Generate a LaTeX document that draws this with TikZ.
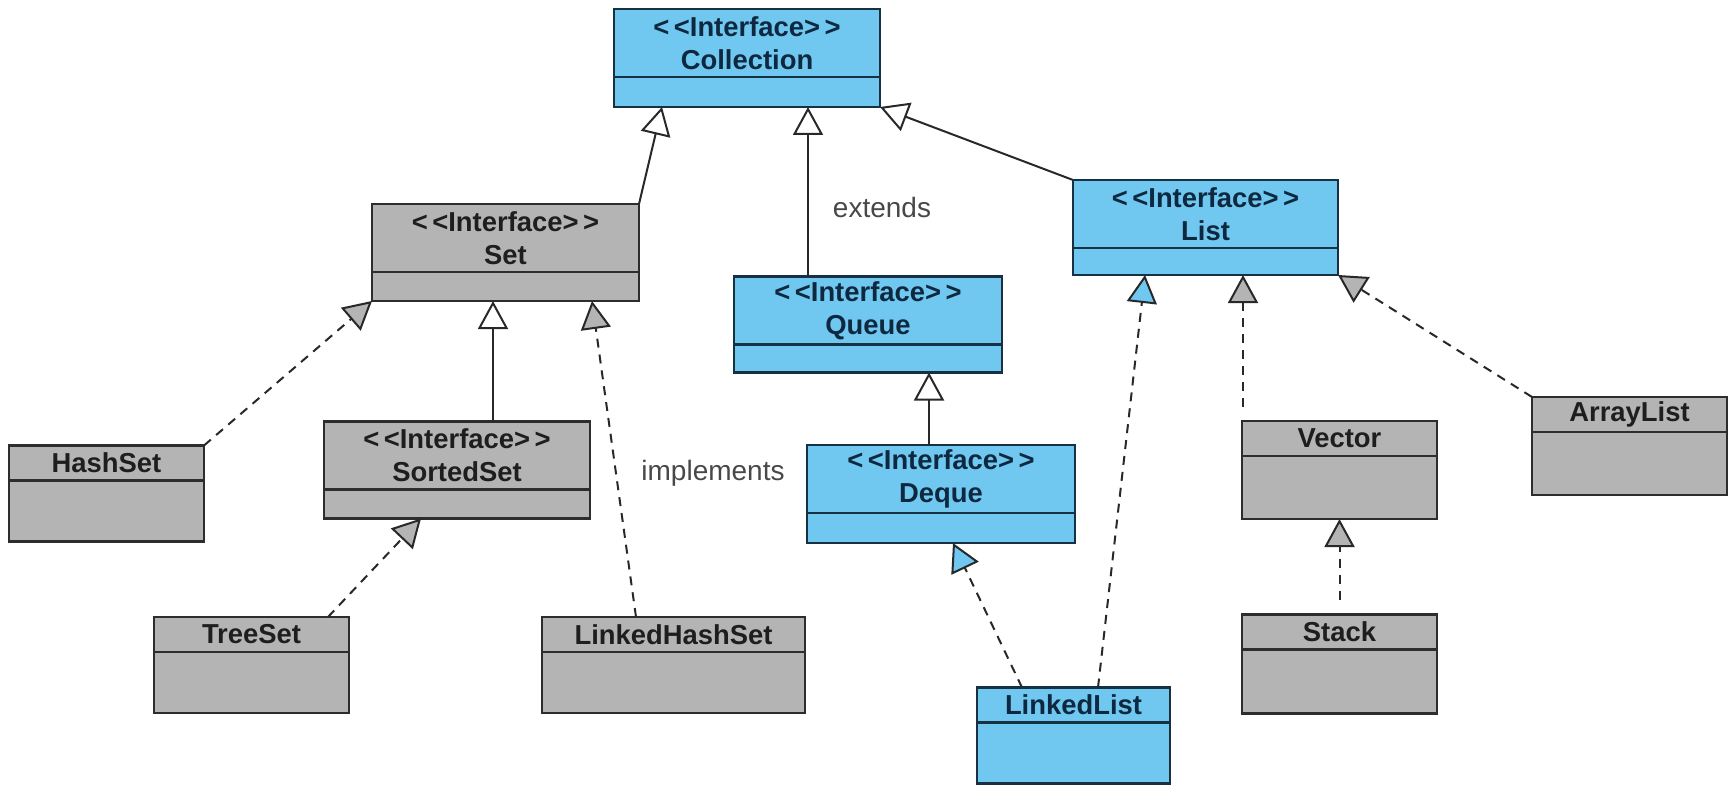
\documentclass[tikz,border=0pt]{standalone}
\usepackage{fontspec}
\setmainfont{Liberation Sans}
\usetikzlibrary{positioning, arrows.meta}

\definecolor{azulrelleno}{RGB}{112,200,240}
\definecolor{azulborde}{RGB}{22,50,66}
\definecolor{azultexto}{RGB}{14,40,64}
\definecolor{grisrelleno}{RGB}{180,180,180}
\definecolor{grisborde}{RGB}{45,45,45}
\definecolor{gristexto}{RGB}{30,30,30}
\definecolor{linea}{RGB}{40,40,40}

\tikzset{
  azul/.style={draw=azulborde, fill=azulrelleno, text=azultexto},
  gris/.style={draw=grisborde, fill=grisrelleno, text=gristexto},
  caja/.style={line width=2.4pt, outer sep=0pt, inner sep=0pt, align=center,
    font=\fontsize{27.4}{33}\selectfont\bfseries},
  interfaz/.style={caja, minimum height=68pt},
  clase/.style={caja, minimum height=35pt},
  hueco/.style={caja, minimum height=#1},
  hereda/.style={draw=linea, line width=2pt,
    -{Triangle[length=28pt, width=30pt, fill=white]}},
  implementa/.style={draw=linea, line width=2pt, dash pattern=on 9pt off 7pt,
    -{Triangle[length=28pt, width=30pt, fill=#1]}},
  implementa/.default=grisrelleno,
  etiqueta/.style={text=linea!85, font=\fontsize{28}{32}\selectfont}
}

\begin{document}
\begin{tikzpicture}[x=1pt, y=-1pt]
  \useasboundingbox (0,0) rectangle (1734,786);

  % Interfaces
  \node[interfaz, azul, minimum width=266pt] (coll) at (747,43) {<\,<Interface>\,>\\Collection};
  \node[hueco=30pt, azul, minimum width=266pt, below=0pt of coll] (coll-b) {};

  \node[interfaz, gris, minimum width=267pt] (set) at (505.5,238) {<\,<Interface>\,>\\Set};
  \node[hueco=29pt, gris, minimum width=267pt, below=0pt of set] (set-b) {};

  \node[interfaz, azul, minimum width=265pt] (list) at (1205.5,214) {<\,<Interface>\,>\\List};
  \node[hueco=27pt, azul, minimum width=265pt, below=0pt of list] (list-b) {};

  \node[interfaz, azul, minimum width=268pt] (queue) at (868,310.5) {<\,<Interface>\,>\\Queue};
  \node[hueco=28pt, azul, minimum width=268pt, below=0pt of queue] (queue-b) {};

  \node[interfaz, gris, minimum width=266pt] (sorted) at (457,455.5) {<\,<Interface>\,>\\SortedSet};
  \node[hueco=29pt, gris, minimum width=266pt, below=0pt of sorted] (sorted-b) {};

  \node[interfaz, azul, minimum width=268pt] (deque) at (941,479) {<\,<Interface>\,>\\Deque};
  \node[hueco=30pt, azul, minimum width=268pt, below=0pt of deque] (deque-b) {};

  % Clases
  \node[clase, gris, minimum width=195pt] (hashset) at (106.5,463) {HashSet};
  \node[hueco=61pt, gris, minimum width=195pt, below=0pt of hashset] (hashset-b) {};

  \node[clase, gris, minimum width=195pt] (treeset) at (251.5,634.5) {TreeSet};
  \node[hueco=61pt, gris, minimum width=195pt, below=0pt of treeset] (treeset-b) {};

  \node[clase, gris, minimum width=263pt] (lhs) at (673.5,634.5) {LinkedHashSet};
  \node[hueco=61pt, gris, minimum width=263pt, below=0pt of lhs] (lhs-b) {};

  \node[clase, azul, minimum width=193pt] (llist) at (1073.5,705) {LinkedList};
  \node[hueco=61pt, azul, minimum width=193pt, below=0pt of llist] (llist-b) {};

  \node[clase, gris, minimum width=195pt] (vector) at (1339.5,438.5) {Vector};
  \node[hueco=63pt, gris, minimum width=195pt, below=0pt of vector] (vector-b) {};

  \node[clase, gris, minimum width=195pt] (stack) at (1339.5,632) {Stack};
  \node[hueco=64pt, gris, minimum width=195pt, below=0pt of stack] (stack-b) {};

  \node[clase, gris, minimum width=195pt] (arraylist) at (1629.5,414.5) {ArrayList};
  \node[hueco=63pt, gris, minimum width=195pt, below=0pt of arraylist] (arraylist-b) {};

  % Herencia entre interfaces
  \draw[hereda] (set.north east) -- ([xshift=48pt]coll-b.south west);
  \draw[hereda] ([xshift=74pt]queue.north west) coordinate (q) -- (q |- coll-b.south);
  \draw[hereda] (list.north west) -- (coll-b.south east);
  \draw[hereda] ([xshift=169pt]sorted.north west) coordinate (s) -- (s |- set-b.south);
  \draw[hereda] ([xshift=122pt]deque.north west) coordinate (d) -- (d |- queue-b.south);

  % Implementaciones
  \draw[implementa] (hashset.north east) -- (set-b.south west);
  \draw[implementa] ([xshift=94pt]lhs.north west) -- ([xshift=-47pt]set-b.south east);
  \draw[implementa] ([xshift=-21pt]treeset.north east) -- ([xshift=97pt]sorted-b.south west);
  \draw[implementa=azulrelleno] ([xshift=45pt]llist.north west) -- ([xshift=146pt]deque-b.south west);
  \draw[implementa=azulrelleno] ([xshift=121pt]llist.north west) -- ([xshift=72pt]list-b.south west);
  \draw[implementa] ([xshift=1pt, yshift=14pt]vector.north west) coordinate (v) -- (v |- list-b.south);
  \draw[implementa] (arraylist.north west) -- (list-b.south east);
  \draw[implementa] ([yshift=15pt]stack.north) -- (vector-b.south);

  % Etiquetas
  \node[etiqueta] (ext) at (882,207) {extends};
  \node[etiqueta] (impl) at (713,473) {implements};
\end{tikzpicture}
\end{document}
